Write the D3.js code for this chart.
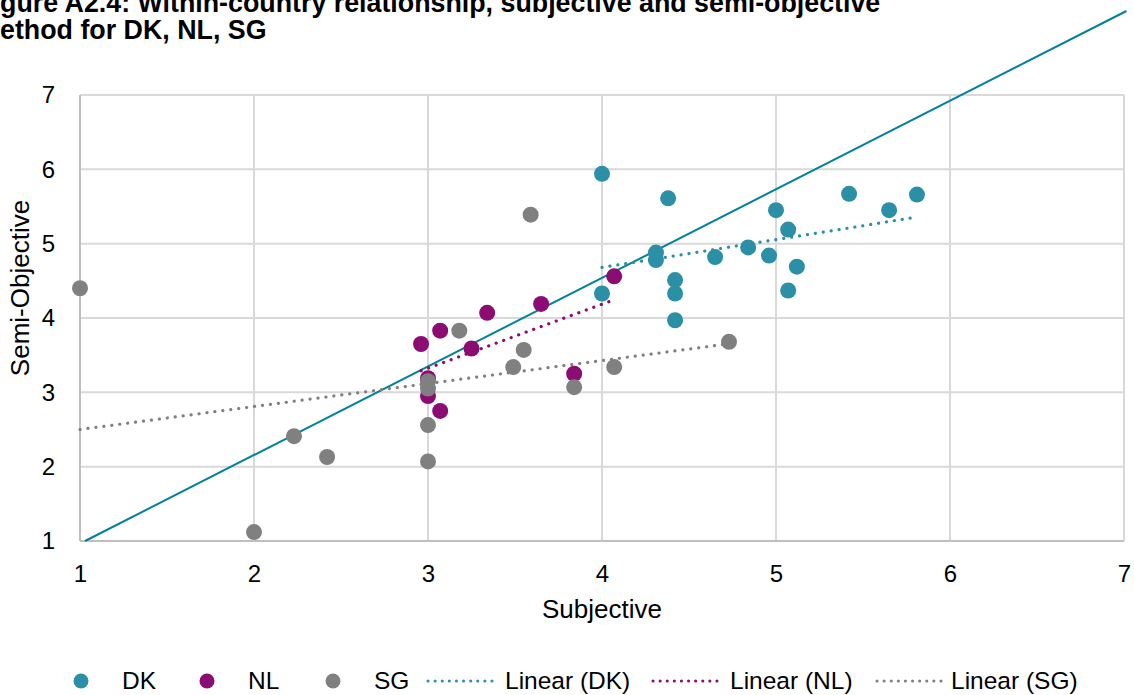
<!DOCTYPE html>
<html><head><meta charset="utf-8">
<script src="https://cdn.jsdelivr.net/npm/d3@7/dist/d3.min.js"></script>
<style>
html,body{margin:0;padding:0;background:#fff;overflow:hidden;}
svg{display:block;font-family:"Liberation Sans",Arial,sans-serif;}
</style></head><body>
<svg id="c" width="1134" height="695"></svg>
<script>
const titleLines = ["Figure A2.4: Within-country relationship, subjective and semi-objective", "method for DK, NL, SG"];
const xTicks = [1,2,3,4,5,6,7];
const yTicks = [1,2,3,4,5,6,7];
const xLabel = "Subjective";
const yLabel = "Semi-Objective";

const dkX = [4.0, 4.38, 5.42, 5.65, 5.81, 5.0, 5.07, 4.84, 4.96, 4.65, 5.12, 5.07, 4.31, 4.31, 4.42, 4.42, 4.42, 4.0];
const dkY = [5.94, 5.61, 5.67, 5.45, 5.66, 5.45, 5.19, 4.95, 4.84, 4.82, 4.69, 4.37, 4.88, 4.78, 4.51, 4.33, 3.97, 4.33];
const nlX = [2.96, 3.07, 3.34, 3.65, 3.25, 4.07, 3.84, 3.0, 3.0, 3.07];
const nlY = [3.65, 3.83, 4.07, 4.19, 3.59, 4.56, 3.25, 3.19, 2.95, 2.75];
const sgX = [1.0, 2.0, 2.23, 2.42, 3.59, 3.18, 3.55, 3.49, 4.07, 3.84, 3.0, 3.0, 3.0, 3.0, 4.73];
const sgY = [4.40, 1.12, 2.41, 2.13, 5.39, 3.83, 3.57, 3.34, 3.34, 3.07, 3.15, 3.05, 2.56, 2.07, 3.68];

// trend line end points
const trendDKX = [4.0, 5.79], trendDKY = [4.68, 5.35];
const trendNLX = [2.96, 4.04], trendNLY = [3.29, 4.22];
const trendSGX = [1.0, 4.72], trendSGY = [2.50, 3.65];
// reference line
const refX = [1.029, 7.014], refY = [1.0, 8.13];

const colors = {DK:"#2B8FA6", NL:"#8B0C72", SG:"#808080"};
const refColor = "#00829A";

const svg = d3.select("#c");
const L = 80, R = 1124, T = 95, B = 541;
const x = d3.scaleLinear().domain([1,7]).range([L,R]);
const y = d3.scaleLinear().domain([1,7]).range([B,T]);

// title
const tt = svg.append("text").attr("font-weight","bold").attr("font-size",26.8).attr("fill","#000");
tt.append("tspan").attr("x",-23.8).attr("y",12).text(titleLines[0]);
tt.append("tspan").attr("x",-23.8).attr("y",39).text(titleLines[1]);

// gridlines
const g = svg.append("g");
g.selectAll(".vg").data(xTicks.slice(1)).join("line")
  .attr("x1",d=>x(d)).attr("x2",d=>x(d)).attr("y1",T).attr("y2",B)
  .attr("stroke","#d9d9d9").attr("stroke-width",2);
g.selectAll(".hg").data(yTicks.slice(1)).join("line")
  .attr("x1",L).attr("x2",R).attr("y1",d=>y(d)).attr("y2",d=>y(d))
  .attr("stroke","#d9d9d9").attr("stroke-width",2);
g.append("line").attr("x1",L).attr("x2",L).attr("y1",T).attr("y2",B).attr("stroke","#bfbfbf").attr("stroke-width",2);
g.append("line").attr("x1",L).attr("x2",R).attr("y1",B).attr("y2",B).attr("stroke","#bfbfbf").attr("stroke-width",2);

// axes tick labels via d3 axes
const xa = svg.append("g").attr("transform",`translate(0,${B})`)
  .call(d3.axisBottom(x).tickValues(xTicks).tickFormat(d3.format("d")).tickSize(0).tickPadding(24));
const ya = svg.append("g").attr("transform",`translate(${L},0)`)
  .call(d3.axisLeft(y).tickValues(yTicks).tickFormat(d3.format("d")).tickSize(0).tickPadding(25));
[xa,ya].forEach(a=>{a.select(".domain").remove();a.selectAll("text").attr("font-size",24).attr("fill","#000").attr("font-family","Liberation Sans, Arial, sans-serif");});

svg.append("text").attr("x",x(4)).attr("y",618).attr("text-anchor","middle").attr("font-size",26).text(xLabel);
svg.append("text").attr("transform",`translate(29,${(T+B)/2 - 30}) rotate(-90)`).attr("text-anchor","middle").attr("font-size",26).text(yLabel);

// reference line
svg.append("line").attr("x1",x(refX[0])).attr("y1",y(refY[0])).attr("x2",x(refX[1])).attr("y2",y(refY[1]))
  .attr("stroke",refColor).attr("stroke-width",2);

// points
function pts(xs, ys, name){
  svg.append("g").selectAll("circle").data(xs.map((v,i)=>[v,ys[i]])).join("circle")
    .attr("cx",d=>x(d[0])).attr("cy",d=>y(d[1])).attr("r",8).attr("fill",colors[name]);
}
pts(dkX,dkY,"DK");
pts(nlX,nlY,"NL");
pts(sgX,sgY,"SG");

// trend lines
function trend(xs, ys, name){
  svg.append("line").attr("x1",x(xs[0])).attr("y1",y(ys[0])).attr("x2",x(xs[1])).attr("y2",y(ys[1]))
    .attr("stroke",colors[name]).attr("stroke-width",3.2).attr("stroke-linecap","round").attr("stroke-dasharray","0.1 7.9");
}
trend(trendDKX,trendDKY,"DK");
trend(trendNLX,trendNLY,"NL");
trend(trendSGX,trendSGY,"SG");

// legend
const ly = 681;
const leg = svg.append("g").attr("font-size",24.5);
const legendItems = [
  {type:"dot", name:"DK", mx:81, tx:122},
  {type:"dot", name:"NL", mx:207, tx:248},
  {type:"dot", name:"SG", mx:333, tx:374},
  {type:"line", name:"DK", label:"Linear (DK)", mx:428, mx2:496, tx:505},
  {type:"line", name:"NL", label:"Linear (NL)", mx:653, mx2:721, tx:730},
  {type:"line", name:"SG", label:"Linear (SG)", mx:877, mx2:942, tx:951},
];
legendItems.forEach(it=>{
  if(it.type==="dot"){
    leg.append("circle").attr("cx",it.mx).attr("cy",ly).attr("r",7.5).attr("fill",colors[it.name]);
  } else {
    leg.append("line").attr("x1",it.mx).attr("x2",it.mx2).attr("y1",ly).attr("y2",ly)
      .attr("stroke",colors[it.name]).attr("stroke-width",3).attr("stroke-linecap","round").attr("stroke-dasharray","0.1 7");
  }
  leg.append("text").attr("x",it.tx).attr("y",ly+8).text(it.label||it.name);
});
</script>
</body></html>
